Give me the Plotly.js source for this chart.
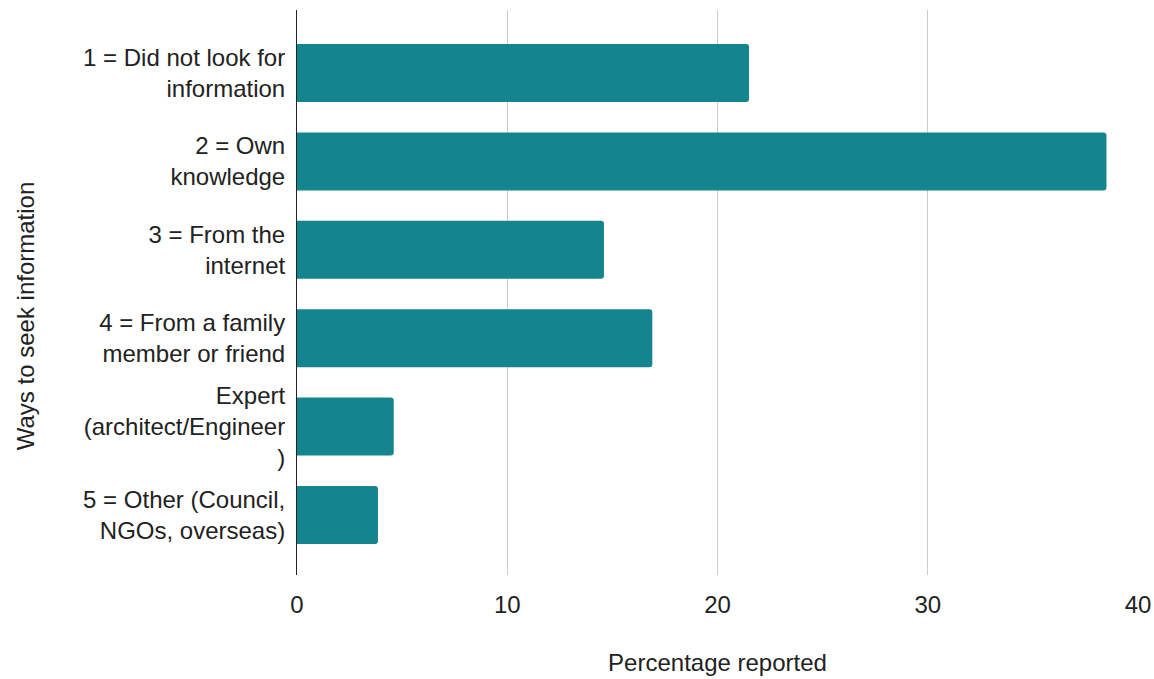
<!DOCTYPE html>
<html>
<head>
<meta charset="utf-8">
<script src="https://cdn.plot.ly/plotly-3.0.1.min.js"></script>
<style>html,body{margin:0;padding:0;background:#fff;}#chart{width:1154px;height:679px;}</style>
</head>
<body>
<div id="chart"></div>
<script>
const categories = [
  "1 = Did not look for<br>information",
  "2 = Own<br>knowledge",
  "3 = From the<br>internet",
  "4 = From a family<br>member or friend",
  "Expert<br>(architect/Engineer<br>)",
  "5 = Other (Council,<br>NGOs, overseas)"
];
const percentages = [21.5, 38.5, 14.6, 16.9, 4.6, 3.85];
const xTickValues = [0, 10, 20, 30, 40];
const xTitle = "Percentage reported";
const yTitle = "Ways to seek information";

const trace = {
  type: "bar",
  orientation: "h",
  y: categories,
  x: percentages,
  marker: {color: "#14848F", cornerradius: 3},
  hoverinfo: "x+y"
};

const font = {family: "'Liberation Sans', Arial, sans-serif", size: 24, color: "#222222"};

const layout = {
  width: 1154,
  height: 679,
  margin: {l: 297, r: 16, t: 10, b: 104},
  paper_bgcolor: "#ffffff",
  plot_bgcolor: "#ffffff",
  font: font,
  showlegend: false,
  bargap: 0.344,
  xaxis: {
    range: [0, 40],
    tickvals: xTickValues,
    ticktext: xTickValues.map(String),
    showgrid: true,
    gridcolor: "#cccccc",
    gridwidth: 1,
    zeroline: false,
    showline: false,
    ticks: "",
    ticklabelstandoff: 13,
    tickfont: font,
    title: {text: xTitle, font: font, standoff: 37}
  },
  yaxis: {
    type: "category",
    range: [5.68, -0.713],
    showline: true,
    linecolor: "#222222",
    linewidth: 1,
    showgrid: false,
    zeroline: false,
    ticks: "",
    ticklabelstandoff: 6,
    tickfont: font
  },
  annotations: [{
    text: yTitle,
    textangle: -90,
    xref: "paper",
    yref: "paper",
    x: -0.3234,
    y: 0.458,
    xanchor: "center",
    yanchor: "middle",
    showarrow: false,
    font: font
  }]
};

Plotly.newPlot("chart", [trace], layout, {displayModeBar: false, staticPlot: true});
</script>
</body>
</html>
